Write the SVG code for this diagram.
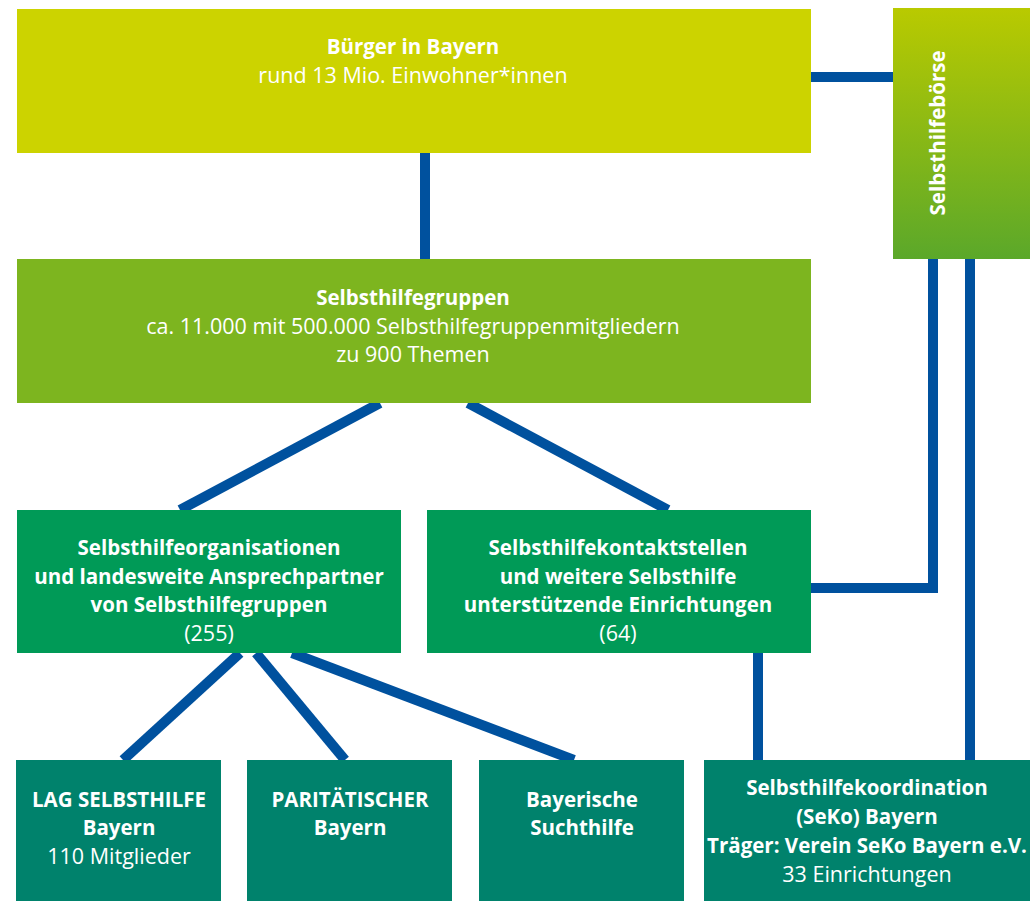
<svg xmlns="http://www.w3.org/2000/svg" width="1030" height="901" viewBox="0 0 1030 901">
<defs>
<linearGradient id="gB" x1="0" y1="0" x2="0" y2="1">
<stop offset="0" stop-color="#B9CA00"/>
<stop offset="1" stop-color="#5BA82A"/>
</linearGradient>
<style>
.c{stroke:#00519E;stroke-width:10;fill:none}
.t{font-family:"Open Sans","Noto Sans",sans-serif;fill:#fff;text-anchor:middle;font-size:21.5px}
.b{font-weight:bold;font-size:20.5px}
.y{fill:#CCD300}
.g{fill:#7DB51F}
.m{fill:#009A57}
.d{fill:#00826C}
</style>
</defs>
<rect width="1030" height="901" fill="#fff"/>
<g id="connectors">
<line class="c" x1="811" y1="77" x2="893" y2="77"/>
<line class="c" x1="425" y1="153" x2="425" y2="259"/>
<line class="c" x1="380" y1="403" x2="180" y2="510"/>
<line class="c" x1="468" y1="403" x2="668" y2="510"/>
<polyline class="c" points="933,259 933,588 810,588"/>
<line class="c" x1="970" y1="259" x2="970" y2="760"/>
<line class="c" x1="758" y1="653" x2="758" y2="760"/>
<line class="c" x1="240" y1="653" x2="123" y2="760"/>
<line class="c" x1="256" y1="653" x2="345" y2="760"/>
<line class="c" x1="292" y1="653" x2="574" y2="760"/>
</g>
<g id="buerger">
<rect class="y" x="17" y="9" width="794" height="144"/>
<text class="t b" x="413" y="54">Bürger in Bayern</text>
<text class="t" x="413" y="83">rund 13 Mio. Einwohner*innen</text>
</g>
<g id="boerse">
<rect x="893" y="8" width="137" height="251" fill="url(#gB)"/>
<text class="t b" transform="translate(945,133) rotate(-90)">Selbsthilfebörse</text>
</g>
<g id="gruppen">
<rect class="g" x="17" y="259" width="794" height="144"/>
<text class="t b" x="413" y="305">Selbsthilfegruppen</text>
<text class="t" x="413" y="334">ca. 11.000 mit 500.000 Selbsthilfegruppenmitgliedern</text>
<text class="t" x="413" y="362">zu 900 Themen</text>
</g>
<g id="organisationen">
<rect class="m" x="17" y="510" width="384" height="143"/>
<text class="t b" x="209" y="555">Selbsthilfeorganisationen</text>
<text class="t b" x="209" y="584">und landesweite Ansprechpartner</text>
<text class="t b" x="209" y="612">von Selbsthilfegruppen</text>
<text class="t" x="209" y="641">(255)</text>
</g>
<g id="kontaktstellen">
<rect class="m" x="427" y="510" width="384" height="143"/>
<text class="t b" x="618" y="555">Selbsthilfekontaktstellen</text>
<text class="t b" x="618" y="584">und weitere Selbsthilfe</text>
<text class="t b" x="618" y="612">unterstützende Einrichtungen</text>
<text class="t" x="618" y="641">(64)</text>
</g>
<g id="lag">
<rect class="d" x="16" y="760" width="205" height="141"/>
<text class="t b" x="119" y="807">LAG SELBSTHILFE</text>
<text class="t b" x="119" y="835">Bayern</text>
<text class="t" x="119" y="864">110 Mitglieder</text>
</g>
<g id="paritaetischer">
<rect class="d" x="247" y="760" width="205" height="141"/>
<text class="t b" x="350" y="807">PARITÄTISCHER</text>
<text class="t b" x="350" y="835">Bayern</text>
</g>
<g id="suchthilfe">
<rect class="d" x="479" y="760" width="205" height="141"/>
<text class="t b" x="582" y="807">Bayerische</text>
<text class="t b" x="582" y="835">Suchthilfe</text>
</g>
<g id="seko">
<rect class="d" x="704" y="760" width="326" height="141"/>
<text class="t b" x="867" y="795">Selbsthilfekoordination</text>
<text class="t b" x="867" y="824">(SeKo) Bayern</text>
<text class="t b" x="867" y="853">Träger: Verein SeKo Bayern e.V.</text>
<text class="t" x="867" y="882">33 Einrichtungen</text>
</g>
</svg>
